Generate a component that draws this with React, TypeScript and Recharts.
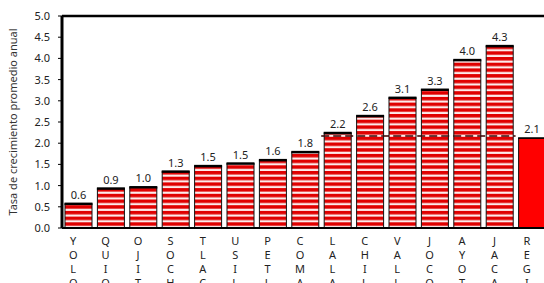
import { BarChart, Bar, XAxis, YAxis, ReferenceLine, LabelList } from 'recharts';

const categories = ['YOLO', 'QUIO', 'OJIT', 'SOCH', 'TLAC', 'USIL', 'PETL', 'COMA', 'LALA', 'CHIL', 'VALL', 'JOCO', 'AYOT', 'JACA', 'REGI'];
const rates = [0.57, 0.93, 0.96, 1.33, 1.46, 1.52, 1.6, 1.79, 2.24, 2.64, 3.07, 3.26, 3.96, 4.29, 2.12];
const yTicks = [0, 0.5, 1, 1.5, 2, 2.5, 3, 3.5, 4, 4.5, 5];
const regionAvg = 2.17;
const avgFrom = 'LALA';
const avgTo = 'REGI';

const data = categories.map((name, i) => ({ name, rate: rates[i] }));

const BarShape = (props: any) => {
    const { x, y, width, height, index } = props;
    const solid = categories[index] === 'REGI';
    return (
        <g>
            <rect x={x} y={y} width={width} height={height} fill={solid ? '#ff0000' : 'url(#stripes)'} stroke="#111" strokeWidth={1} />
            <line x1={x - 0.5} x2={x + width + 0.5} y1={y} y2={y} stroke="#000" strokeWidth={solid ? 1.5 : 2.5} />
        </g>
    );
};

const LetterTick = (props: any) => {
    const { x, y, payload } = props;
    return (
        <text x={x - 5} y={y} textAnchor="middle" fontSize={11} fill="#222" fontFamily="'Noto Sans', sans-serif">
            {payload.value.split('').map((ch: string, i: number) => (
                <tspan key={i} x={x - 5} dy={i === 0 ? 9 : 13.9}>{ch}</tspan>
            ))}
        </text>
    );
};

export default function App() {
    return (
        <div style={{ position: 'absolute', left: 0, top: 0, width: 544, height: 283, overflow: 'hidden', background: '#fff' }}>
            <BarChart width={556} height={283} data={data} margin={{ top: 16, right: 8, left: 0, bottom: 0 }}>
                <defs>
                    <pattern id="stripes" patternUnits="userSpaceOnUse" width={4} height={5.7}>
                        <rect x={0} y={0} width={4} height={5.7} fill="#e00000" />
                        <rect x={0} y={3.5} width={4} height={2.2} fill="#fdeaea" />
                    </pattern>
                </defs>
                <XAxis dataKey="name" height={55} interval={0} tickLine={false} axisLine={{ stroke: '#000', strokeWidth: 2 }} tick={<LetterTick />} />
                <YAxis
                    width={62}
                    domain={[0, 5]}
                    ticks={yTicks}
                    tickFormatter={(v: number) => v.toFixed(1)}
                    tick={{ fontSize: 11, fill: '#222', fontFamily: "'Noto Sans', sans-serif" }}
                    tickSize={4}
                    tickMargin={8}
                    tickLine={{ stroke: '#000' }}
                    axisLine={{ stroke: '#000', strokeWidth: 3 }}
                    label={{
                        content: () => (
                            <text x={14} y={122} transform="rotate(-90 14 122)" textAnchor="middle" dominantBaseline="middle" fontSize={11} fill="#333" fontFamily="'Noto Sans', sans-serif">
                                Tasa de crecimiento promedio anual
                            </text>
                        ),
                    }}
                />
                <ReferenceLine y={5} stroke="#000" strokeWidth={2.5} />
                <Bar dataKey="rate" barSize={27} shape={<BarShape />} isAnimationActive={false}>
                    <LabelList dataKey="rate" position="top" offset={5} formatter={(v: any) => Number(v).toFixed(1)} style={{ fontSize: 11, fill: '#222', fontFamily: "'Noto Sans', sans-serif" }} />
                </Bar>
                <ReferenceLine
                    segment={[{ x: avgFrom, y: regionAvg }, { x: avgTo, y: regionAvg }]}
                    position="start"
                    stroke="#3a0000"
                    strokeWidth={1.5}
                    strokeDasharray="8 4"
                />
            </BarChart>
        </div>
    );
}
